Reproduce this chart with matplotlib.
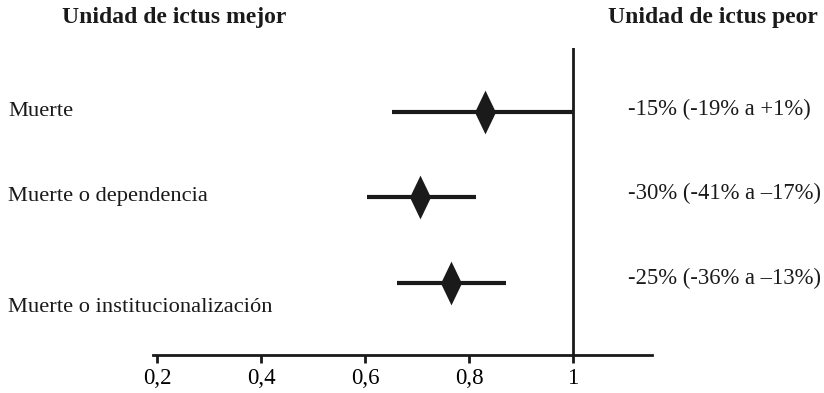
import matplotlib.pyplot as plt
import matplotlib.transforms as mtransforms
from matplotlib.path import Path

# ── Data ──────────────────────────────────────────────────────────────────────
outcomes = ['Muerte', 'Muerte o dependencia', 'Muerte o institucionalización']
point = [0.83, 0.705, 0.765]
ci_low = [0.652, 0.604, 0.662]
ci_high = [1.0, 0.813, 0.871]
effect_text = ['-15% (-19% a +1%)', '-30% (-41% a \u201317%)', '-25% (-36% a \u201313%)']
xticks = [0.2, 0.4, 0.6, 0.8, 1.0]
xtick_labels = ['0,2', '0,4', '0,6', '0,8', '1']

# layout (row height in pixels above the axis line)
row_y = [243, 158, 72]
label_dy = [1, 1, -24]
text_dy = [3, 4, 5]

plt.rcParams['font.family'] = ['Liberation Serif', 'DejaVu Serif']

W, H = 824, 393
fig = plt.figure(figsize=(W / 100, H / 100), dpi=100)
ax = fig.add_axes([153 / W, (H - 355) / H, (652 - 153) / W, (355 - 48) / H])
ax.set_xlim(0.192, 1.152)
ax.set_ylim(0, 307)

ink = '#1a1a1a'
diamond = Path([(0, 1), (0.48, 0), (0, -1), (-0.48, 0), (0, 1)],
               [Path.MOVETO, Path.LINETO, Path.LINETO, Path.LINETO, Path.CLOSEPOLY])
for y, p, lo, hi in zip(row_y, point, ci_low, ci_high):
    ax.plot([lo, hi], [y, y], color=ink, lw=3, solid_capstyle='butt', zorder=2)
    ax.plot(p, y, marker=diamond, markersize=31.5, markeredgewidth=0,
            color=ink, zorder=3)

ax.axvline(1.0, color=ink, lw=2, zorder=1)

for s in ['top', 'right', 'left']:
    ax.spines[s].set_visible(False)
ax.spines['bottom'].set_linewidth(2)
ax.spines['bottom'].set_color(ink)
ax.set_yticks([])
ax.set_xticks(xticks)
ax.set_xticklabels(xtick_labels, fontsize=16.5)
ax.tick_params(axis='x', direction='out', length=6, width=2, color=ink, pad=3)

trans = mtransforms.blended_transform_factory(fig.transFigure, ax.transData)
for lab, y, dy in zip(outcomes, row_y, label_dy):
    ax.text(8 / W, y + dy, lab, transform=trans, fontsize=16.2,
            ha='left', va='center', color=ink, clip_on=False)
for t, y, dy in zip(effect_text, row_y, text_dy):
    ax.text(628 / W, y + dy, t, transform=trans, fontsize=16.3,
            ha='left', va='center', color=ink, clip_on=False)

fig.text(62 / W, 1 - 18 / H, 'Unidad de ictus mejor', fontsize=17,
         fontweight='bold', ha='left', va='center', color=ink)
fig.text(818 / W, 1 - 18 / H, 'Unidad de ictus peor', fontsize=17,
         fontweight='bold', ha='right', va='center', color=ink)

fig.savefig('out.png', dpi=100)
